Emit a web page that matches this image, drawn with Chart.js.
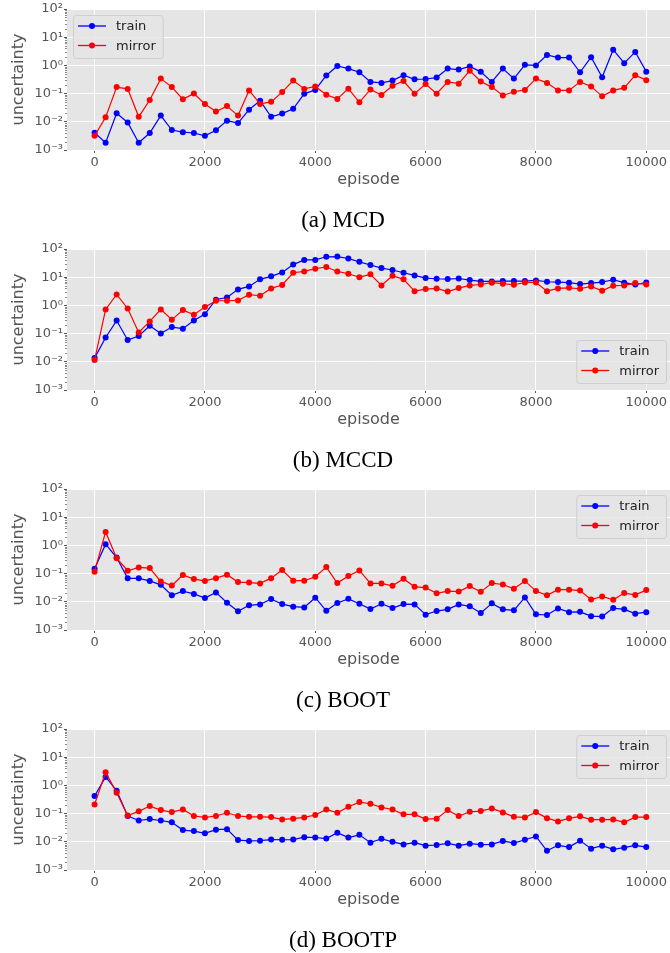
<!DOCTYPE html>
<html>
<head>
<meta charset="utf-8">
<title>uncertainty per episode</title>
<script src="https://cdn.jsdelivr.net/npm/chart.js@4.4.1/dist/chart.umd.min.js"></script>
<style>
    html, body { margin: 0; padding: 0; background: #fff; }
    #figure { position: relative; width: 670px; height: 953px; overflow: hidden; }
    .panel { position: absolute; left: 0; width: 670px; height: 240px; }
    .panel canvas { position: absolute; left: 0; top: 0; }
    .caption {
        position: absolute; left: 243px; width: 200px; text-align: center;
        font-family: "Liberation Serif", "DejaVu Serif", serif; font-size: 23px;
        color: #000; line-height: 28px; top: 206px;
    }
</style>
</head>
<body>
<div id="figure"></div>
<script>
// x positions (episodes) shared by all four panels
const episodes = [
    0, 200, 400, 600, 800, 1000, 1200, 1400, 1600, 1800,
    2000, 2200, 2400, 2600, 2800, 3000, 3200, 3400, 3600, 3800,
    4000, 4200, 4400, 4600, 4800, 5000, 5200, 5400, 5600, 5800,
    6000, 6200, 6400, 6600, 6800, 7000, 7200, 7400, 7600, 7800,
    8000, 8200, 8400, 8600, 8800, 9000, 9200, 9400, 9600, 9800,
    10000
];

const seriesNames = ['train', 'mirror'];
const panelCaptions = ['(a) MCD', '(b) MCCD', '(c) BOOT', '(d) BOOTP'];

const xTickValues = [0, 2000, 4000, 6000, 8000, 10000];
const yTickValues = [0.001, 0.01, 0.1, 1, 10, 100];
const yTickLabels = ['10\u207B\u00B3', '10\u207B\u00B2', '10\u207B\u00B9', '10\u2070', '10\u00B9', '10\u00B2'];

// (a) MCD
const mcdTrain = [
    0.0041, 0.0018, 0.02, 0.0095, 0.0018, 0.004, 0.0166, 0.0051, 0.0043, 0.004,
    0.0032, 0.005, 0.011, 0.009, 0.027, 0.056, 0.015, 0.0195, 0.029, 0.098,
    0.135, 0.44, 0.95, 0.77, 0.57, 0.26, 0.24, 0.29, 0.45, 0.32,
    0.33, 0.37, 0.77, 0.71, 0.92, 0.59, 0.26, 0.77, 0.34, 1.05,
    1.0, 2.34, 1.9, 1.9, 0.57, 1.95, 0.38, 3.6, 1.2, 3.0,
    0.6
];
const mcdMirror = [
    0.0032, 0.0145, 0.17, 0.147, 0.015, 0.059, 0.34, 0.17, 0.063, 0.1,
    0.043, 0.023, 0.036, 0.0166, 0.13, 0.043, 0.051, 0.113, 0.29, 0.147,
    0.18, 0.091, 0.065, 0.15, 0.049, 0.14, 0.089, 0.19, 0.28, 0.099,
    0.22, 0.099, 0.26, 0.225, 0.65, 0.27, 0.17, 0.086, 0.116, 0.135,
    0.34, 0.24, 0.13, 0.13, 0.26, 0.18, 0.08, 0.13, 0.16, 0.45,
    0.3
];

// (b) MCCD
const mccdTrain = [
    0.0135, 0.073, 0.29, 0.059, 0.082, 0.19, 0.1, 0.17, 0.15, 0.29,
    0.49, 1.6, 1.9, 3.7, 4.7, 8.4, 10.7, 14.8, 28, 41,
    41, 53, 54, 46, 35, 27, 21, 18, 14.4, 11.6,
    9.3, 8.8, 8.6, 9, 7.9, 7.1, 7.1, 7.3, 7.3, 7.3,
    7.7, 6.9, 6.7, 6.4, 5.7, 6.2, 6.7, 8.1, 6.4, 5.5,
    6.5
];
const mccdMirror = [
    0.0115, 0.72, 2.45, 0.78, 0.11, 0.27, 0.72, 0.31, 0.68, 0.47,
    0.87, 1.46, 1.46, 1.5, 2.4, 2.2, 4.0, 5.3, 14.4, 16,
    20, 23, 16, 13.3, 10, 12.6, 5.1, 11.3, 8.4, 3.2,
    3.8, 4.0, 3.1, 4.1, 5.1, 5.5, 6.4, 5.9, 5.4, 6.5,
    6.5, 3.2, 4.0, 4.2, 3.9, 4.7, 3.3, 5.0, 5.1, 6.2,
    5.5
];

// (c) BOOT
const bootTrain = [
    0.15, 1.1, 0.37, 0.068, 0.068, 0.055, 0.04, 0.017, 0.024, 0.019,
    0.0136, 0.0215, 0.0093, 0.0046, 0.0075, 0.0081, 0.0125, 0.0083, 0.0067, 0.0063,
    0.014, 0.0048, 0.0091, 0.0127, 0.0085, 0.0055, 0.0085, 0.006, 0.0083, 0.0081,
    0.0035, 0.0047, 0.0054, 0.0081, 0.0069, 0.004, 0.0088, 0.0054, 0.005, 0.0143,
    0.0036, 0.0034, 0.0058, 0.0043, 0.0044, 0.0031, 0.003, 0.006, 0.0054, 0.0038,
    0.0043
];
const bootMirror = [
    0.116, 3.0, 0.35, 0.126, 0.166, 0.157, 0.053, 0.038, 0.089, 0.064,
    0.055, 0.069, 0.091, 0.05, 0.048, 0.045, 0.069, 0.134, 0.056, 0.056,
    0.077, 0.17, 0.046, 0.082, 0.13, 0.045, 0.045, 0.037, 0.066, 0.034,
    0.032, 0.02, 0.024, 0.023, 0.036, 0.0225, 0.046, 0.041, 0.029, 0.055,
    0.024, 0.017, 0.027, 0.027, 0.025, 0.012, 0.0155, 0.0118, 0.0204, 0.0176,
    0.026
];

// (d) BOOTP
const bootpTrain = [
    0.42, 2.0, 0.65, 0.082, 0.057, 0.064, 0.057, 0.049, 0.026, 0.024,
    0.02, 0.027, 0.028, 0.0115, 0.0107, 0.011, 0.012, 0.0118, 0.012, 0.0146,
    0.0142, 0.013, 0.021, 0.0142, 0.0177, 0.0093, 0.0128, 0.01, 0.0081, 0.0093,
    0.0073, 0.0077, 0.0088, 0.0073, 0.0086, 0.0079, 0.0081, 0.0107, 0.009, 0.0118,
    0.0155, 0.0048, 0.0075, 0.0065, 0.011, 0.0057, 0.0073, 0.0054, 0.0062, 0.0075,
    0.0065
];
const bootpMirror = [
    0.21, 2.9, 0.55, 0.086, 0.12, 0.185, 0.133, 0.113, 0.14, 0.082,
    0.073, 0.082, 0.107, 0.082, 0.077, 0.077, 0.075, 0.062, 0.066, 0.073,
    0.089, 0.14, 0.107, 0.175, 0.256, 0.224, 0.166, 0.14, 0.094, 0.094,
    0.064, 0.066, 0.133, 0.082, 0.116, 0.123, 0.153, 0.11, 0.077, 0.073,
    0.113, 0.069, 0.053, 0.068, 0.08, 0.061, 0.061, 0.062, 0.049, 0.075,
    0.075
];

const panels = [
    { train: mcdTrain, mirror: mcdMirror, legend: 'upper left' },
    { train: mccdTrain, mirror: mccdMirror, legend: 'lower right' },
    { train: bootTrain, mirror: bootMirror, legend: 'upper right' },
    { train: bootpTrain, mirror: bootpMirror, legend: 'upper right' }
];

const FONT = '"DejaVu Sans", sans-serif';
const TICK_GRAY = '#555555';

// grey ggplot-like plot background
const plotBackground = {
    id: 'plotBackground',
    beforeDraw(chart) {
        const { ctx, chartArea } = chart;
        ctx.save();
        ctx.fillStyle = '#e5e5e5';
        ctx.fillRect(chartArea.left, chartArea.top, chartArea.right - chartArea.left, chartArea.bottom - chartArea.top);
        ctx.restore();
    }
};

// minor ticks on the log axis (2..9 in every decade)
const minorTicks = {
    id: 'minorTicks',
    afterDraw(chart) {
        const y = chart.scales.y;
        const ctx = chart.ctx;
        ctx.save();
        ctx.strokeStyle = TICK_GRAY;
        ctx.lineWidth = 0.7;
        for (let i = 0; i < yTickValues.length - 1; i++) {
            for (let m = 2; m <= 9; m++) {
                const py = Math.round(y.getPixelForValue(m * yTickValues[i])) + 0.5;
                ctx.beginPath();
                ctx.moveTo(y.right - 2, py);
                ctx.lineTo(y.right, py);
                ctx.stroke();
            }
        }
        ctx.restore();
    }
};

// matplotlib style legend: line with a marker in the middle
const mplLegend = {
    id: 'mplLegend',
    afterDatasetsDraw(chart, args, opts) {
        const { ctx, chartArea } = chart;
        const sets = chart.data.datasets;
        ctx.save();
        ctx.font = '13px ' + FONT;
        const textW = Math.max(...sets.map(d => ctx.measureText(d.label).width));
        const w = 44 + textW + 6;
        const h = 43;
        let left = chartArea.left + 6;
        let top = chartArea.top + 6;
        if (opts.loc.includes('right')) left = chartArea.right - 4 - w;
        if (opts.loc.includes('lower')) top = chartArea.bottom - 7 - h;

        ctx.beginPath();
        ctx.roundRect(left + 0.5, top + 0.5, w, h, 3);
        ctx.fillStyle = 'rgba(229, 229, 229, 0.85)';
        ctx.fill();
        ctx.strokeStyle = '#cfcfcf';
        ctx.lineWidth = 1;
        ctx.stroke();

        sets.forEach((ds, i) => {
            const ry = top + 11 + i * 19.5;
            ctx.strokeStyle = ds.borderColor;
            ctx.lineWidth = 1.3;
            ctx.beginPath();
            ctx.moveTo(left + 5, ry);
            ctx.lineTo(left + 33, ry);
            ctx.stroke();
            ctx.fillStyle = ds.borderColor;
            ctx.beginPath();
            ctx.arc(left + 19, ry, 3, 0, Math.PI * 2);
            ctx.fill();
            ctx.fillStyle = '#222';
            ctx.textBaseline = 'middle';
            ctx.fillText(ds.label, left + 43, ry + 1);
        });
        ctx.restore();
    }
};

function toPoints(values) {
    return episodes.map((x, i) => ({ x: x, y: values[i] }));
}

function buildPanel(panel, index) {
    const holder = document.createElement('div');
    holder.className = 'panel';
    holder.style.top = (index * 240) + 'px';
    const canvas = document.createElement('canvas');
    canvas.width = 670;
    canvas.height = 240;
    holder.appendChild(canvas);
    const caption = document.createElement('div');
    caption.className = 'caption';
    caption.textContent = panelCaptions[index];
    holder.appendChild(caption);
    document.getElementById('figure').appendChild(holder);

    return new Chart(canvas.getContext('2d'), {
        type: 'line',
        data: {
            datasets: [
                {
                    label: seriesNames[0],
                    data: toPoints(panel.train),
                    borderColor: '#0000ff',
                    backgroundColor: '#0000ff',
                    borderWidth: 1.2,
                    pointRadius: 3,
                    pointBorderWidth: 0,
                    tension: 0,
                    order: 2
                },
                {
                    label: seriesNames[1],
                    data: toPoints(panel.mirror),
                    borderColor: '#ff0000',
                    backgroundColor: '#ff0000',
                    borderWidth: 1.2,
                    pointRadius: 3,
                    pointBorderWidth: 0,
                    tension: 0,
                    order: 1
                }
            ]
        },
        options: {
            responsive: false,
            animation: false,
            events: [],
            layout: {
                // plot runs to the right edge of the figure
                autoPadding: false,
                padding: { top: 9, left: 0, right: 0, bottom: 40 }
            },
            plugins: {
                legend: { display: false },
                tooltip: { enabled: false },
                mplLegend: { loc: panel.legend }
            },
            scales: {
                x: {
                    type: 'linear',
                    min: -500,
                    max: 10430,
                    afterBuildTicks: scale => { scale.ticks = xTickValues.map(v => ({ value: v })); },
                    afterFit: scale => {
                        scale.height = 50;
                        scale.paddingLeft = 0;
                        scale.paddingRight = 0;
                    },
                    grid: { color: '#ffffff', lineWidth: 1, tickColor: TICK_GRAY, tickLength: 3 },
                    border: { display: false },
                    ticks: {
                        color: TICK_GRAY,
                        font: { family: FONT, size: 13 },
                        padding: 2,
                        maxRotation: 0,
                        autoSkip: false,
                        callback: v => String(v)
                    },
                    title: {
                        display: true,
                        text: 'episode',
                        color: TICK_GRAY,
                        font: { family: FONT, size: 16 },
                        padding: { top: 0, bottom: 11 }
                    }
                },
                y: {
                    type: 'logarithmic',
                    min: 0.001,
                    max: 100,
                    afterBuildTicks: scale => { scale.ticks = yTickValues.map(v => ({ value: v, major: true })); },
                    afterFit: scale => {
                        scale.width = 67;
                        scale.paddingTop = 0;
                        scale.paddingBottom = 0;
                    },
                    grid: { color: '#ffffff', lineWidth: 1, tickColor: TICK_GRAY, tickLength: 3 },
                    border: { display: false },
                    ticks: {
                        color: TICK_GRAY,
                        font: { family: FONT, size: 13 },
                        padding: 1,
                        autoSkip: false,
                        callback: v => yTickLabels[yTickValues.indexOf(v)]
                    },
                    title: {
                        display: true,
                        text: 'uncertainty',
                        color: TICK_GRAY,
                        font: { family: FONT, size: 16 },
                        padding: { top: 9, bottom: 0 }
                    }
                }
            }
        },
        plugins: [plotBackground, minorTicks, mplLegend]
    });
}

panels.forEach(buildPanel);
</script>
</body>
</html>
